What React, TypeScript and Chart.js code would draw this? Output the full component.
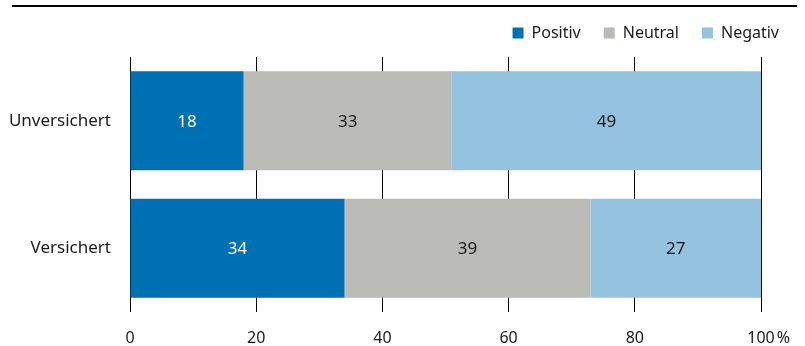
import React, { useEffect, useRef } from "react";
import { Chart, registerables } from "chart.js";

Chart.register(...registerables);

const categories = ["Unversichert", "Versichert"];
const seriesNames = ["Positiv", "Neutral", "Negativ"];
const positiv = [18, 34];
const neutral = [33, 39];
const negativ = [49, 27];
const xTickValues = [0, 20, 40, 60, 80, 100];
const unitSuffix = "%";

const colors = ["#0070b5", "#babab6", "#94c3e0"];
const labelColors = ["#ffffff", "#1a1a1a", "#1a1a1a"];
const FONT = "'Noto Sans', 'Open Sans', sans-serif";

const layoutPlugin = {
  id: "layoutTweaks",
  beforeLayout(chart: any) {
    const l = chart.legend;
    if (l && !l.__patched) {
      const fit = l.fit;
      l.fit = function () {
        fit.call(this);
        this.height = 57;
      };
      l.__patched = true;
    }
  },
  afterLayout(chart: any) {
    const l = chart.legend;
    if (!l) return;
    const pad = l.options.labels.padding;
    const shift = 779 + pad - l.right;
    l.left += shift;
    l.right += shift;
    l.top += 2;
    l.bottom += 2;
  },
};

const valueLabelPlugin = {
  id: "valueLabels",
  afterDatasetsDraw(chart: any) {
    const ctx = chart.ctx;
    ctx.save();
    ctx.font = `17px ${FONT}`;
    ctx.textAlign = "center";
    ctx.textBaseline = "middle";
    chart.data.datasets.forEach((ds: any, di: number) => {
      const meta = chart.getDatasetMeta(di);
      meta.data.forEach((bar: any, i: number) => {
        const p = bar.getProps(["x", "y", "base"], true);
        const cx = (p.x + p.base) / 2;
        ctx.fillStyle = labelColors[di];
        ctx.fillText(String(ds.data[i]), cx, p.y + 1);
      });
    });
    ctx.restore();
  },
  afterDraw(chart: any) {
    const x = chart.scales.x;
    const items = x.getLabelItems();
    const last = items.find((it: any) => it.label === String(xTickValues[xTickValues.length - 1]));
    if (!last) return;
    const ctx = chart.ctx;
    ctx.save();
    ctx.font = last.font.string;
    ctx.fillStyle = "#1a1a1a";
    ctx.textAlign = "left";
    ctx.textBaseline = last.options.textBaseline;
    const w = ctx.measureText(last.label).width;
    const [tx, ty] = last.options.translation;
    ctx.fillText(unitSuffix, tx + w / 2 + 2, ty + (last.textOffset || 0));
    ctx.restore();
  },
};

export default function App() {
  const ref = useRef<HTMLCanvasElement | null>(null);

  useEffect(() => {
    if (!ref.current) return;
    const seriesData = [positiv, neutral, negativ];
    const chart = new Chart(ref.current, {
      type: "bar",
      data: {
        labels: categories,
        datasets: seriesNames.map((name, i) => ({
          label: name,
          data: seriesData[i],
          backgroundColor: colors[i],
          borderWidth: 0,
          barPercentage: 0.776,
          categoryPercentage: 1,
        })),
      },
      options: {
        indexAxis: "y",
        responsive: false,
        animation: false,
        layout: { padding: { left: 0, right: 44, top: 0, bottom: 0 } },
        plugins: {
          tooltip: { enabled: false },
          legend: {
            position: "top",
            align: "end",
            labels: {
              boxWidth: 11,
              boxHeight: 11,
              padding: 23,
              color: "#1a1a1a",
              font: { family: FONT, size: 16 },
            },
          },
        },
        scales: {
          x: {
            stacked: true,
            min: 0,
            max: 100,
            afterBuildTicks: (s: any) => {
              s.ticks = xTickValues.map((v) => ({ value: v }));
            },
            afterFit: (s: any) => {
              s.height = 34;
            },
            grid: { color: "#000000", lineWidth: 1, drawTicks: false },
            border: { display: false },
            ticks: {
              padding: 17,
              color: "#1a1a1a",
              font: { family: FONT, size: 16 },
              maxRotation: 0,
              callback: (v: any) => String(v),
            },
          },
          y: {
            stacked: true,
            afterFit: (s: any) => {
              s.width = 130;
            },
            grid: { display: false, drawTicks: false },
            border: { display: false },
            ticks: {
              padding: 19,
              color: "#1a1a1a",
              font: { family: FONT, size: 17 },
            },
          },
        },
      },
      plugins: [layoutPlugin, valueLabelPlugin],
    } as any);
    return () => chart.destroy();
  }, []);

  return (
    <div style={{ position: "absolute", left: 0, top: 0, width: 805, height: 346, background: "#fff" }}>
      <div style={{ position: "absolute", left: 12, top: 5, width: 785, height: 2, background: "#000" }} />
      <canvas ref={ref} width={805} height={346} style={{ position: "absolute", left: 0, top: 0 }} />
    </div>
  );
}
